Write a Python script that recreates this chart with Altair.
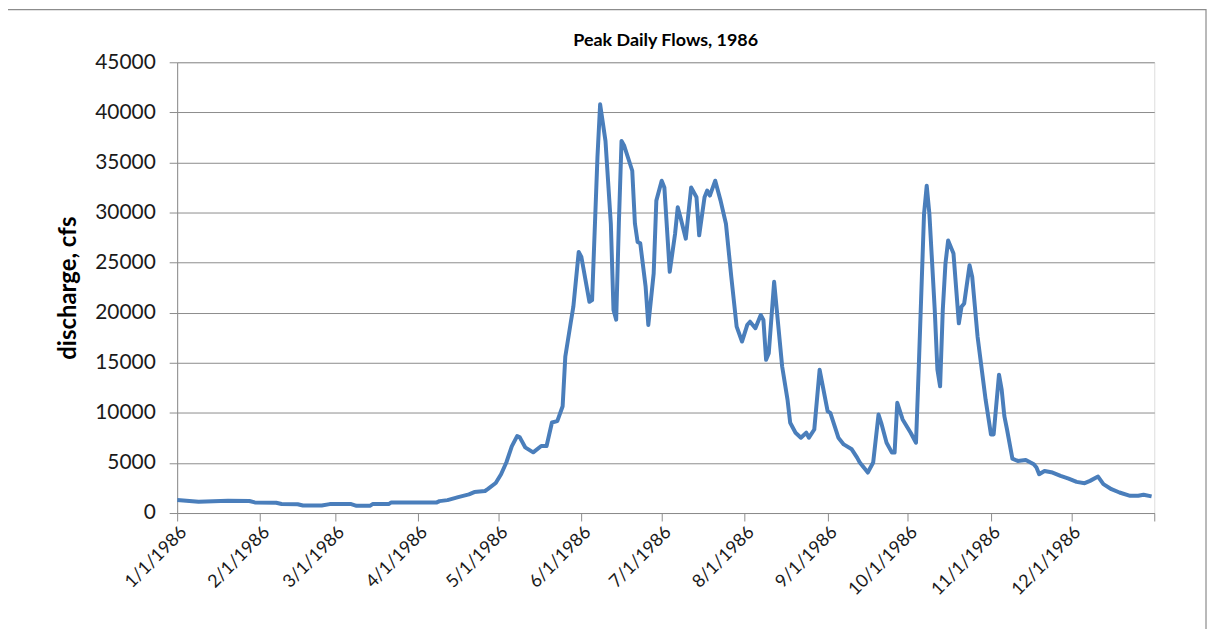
import altair as alt
import pandas as pd

# day-of-year offsets (0 = 1986-01-01) and daily peak discharge (cfs)
day_offsets = [0, 8, 19, 27, 29, 37, 39, 45, 47, 54, 57, 65, 67, 72, 73, 79, 80, 97, 98, 101,
               105, 109, 111, 115, 116, 119, 121, 123, 125, 127, 128, 130, 133, 136, 138, 140, 142, 144, 145, 147,
               148, 150, 151, 154, 155, 157, 158, 160, 162, 163, 164, 165, 166, 167, 170, 171, 172, 173, 175, 176,
               178, 179, 181, 182, 184, 186, 187, 188, 190, 192, 194, 195, 197, 198, 199, 201, 203, 205, 207, 209,
               211, 213, 214, 216, 218, 219, 220, 221, 223, 224, 226, 228, 229, 231, 233, 235, 236, 238, 240, 243,
               244, 247, 249, 252, 254, 255, 258, 260, 262, 263, 265, 267, 268, 269, 271, 274, 276, 277, 279, 280,
               281, 283, 284, 285, 286, 287, 288, 290, 292, 293, 294, 296, 297, 299, 302, 304, 305, 307, 308, 309,
               310, 312, 314, 317, 320, 321, 322, 324, 327, 330, 333, 336, 339, 341, 344, 346, 349, 352, 356, 359,
               361, 364]
discharge = [1300, 1120, 1220, 1200, 1060, 1020, 900, 880, 750, 750, 890, 890, 720, 720, 890, 890, 1060, 1060, 1190, 1290,
             1590, 1860, 2090, 2200, 2380, 3000, 3870, 5070, 6660, 7680, 7550, 6560, 6060, 6690, 6690, 9040, 9170, 10660, 15630, 18970,
             20600, 26060, 25560, 21090, 21260, 35500, 40800, 37150, 28900, 20260, 19300, 28900, 37150, 36660, 34170, 28900, 27050, 26920, 22580, 18775,
             23910, 31190, 33180, 32510, 24080, 27880, 30530, 29530, 27390, 32510, 31520, 27720, 31520, 32190, 31690, 33180, 31190, 28880, 23580, 18610,
             17120, 18800, 19100, 18450, 19770, 19270, 15300, 15960, 23080, 20260, 14630, 11320, 9010, 8020, 7520, 8020, 7520, 8340, 14300, 10160,
             10000, 7520, 6850, 6360, 5530, 5040, 4040, 5040, 9830, 9010, 7020, 6030, 6030, 11000, 9340, 8020, 7020, 14300, 29870, 32680,
             29870, 20260, 14300, 12650, 20260, 24900, 27220, 25900, 18940, 20600, 20930, 24740, 23580, 17610, 11320, 7850, 7850, 13810, 12320, 9670,
             8340, 5430, 5200, 5300, 4870, 4540, 3870, 4200, 4040, 3710, 3440, 3110, 2980, 3210, 3640, 2880, 2380, 2050, 1720, 1720,
             1820, 1660]

y_ticks = [0, 5000, 10000, 15000, 20000, 25000, 30000, 35000, 40000, 45000]
month_starts = ["1986-01-01", "1986-02-01", "1986-03-01", "1986-04-01", "1986-05-01", "1986-06-01",
                "1986-07-01", "1986-08-01", "1986-09-01", "1986-10-01", "1986-11-01", "1986-12-01", "1987-01-01"]
chart_title = "Peak Daily Flows, 1986"
y_title = "discharge, cfs"

start = pd.Timestamp("1986-01-01")
df = pd.DataFrame({
    "date": [(start + pd.Timedelta(days=d)).strftime("%Y-%m-%d") for d in day_offsets],
    "discharge": discharge,
})
x_tick_ms = [int(pd.Timestamp(m).value // 10**6) for m in month_starts]

FONT = "Lato"
GRID = "#8c8c8c"
W, H = 982, 453

line = alt.Chart(df).mark_line(color="#4a7ebb", strokeWidth=4, strokeJoin="round", clip=True).encode(
    x=alt.X("date:T",
            scale=alt.Scale(type="utc", domain=[x_tick_ms[0], x_tick_ms[-1]], nice=False),
            axis=alt.Axis(values=x_tick_ms, title=None, grid=False,
                          labelExpr="utcyear(datum.value) > 1986 ? '' : utcFormat(datum.value, '%-m/%-d/%Y')",
                          labelAngle=-45, labelAlign="right", labelBaseline="top",
                          labelFont=FONT, labelFontSize=18, labelColor="#1a1a1a", labelPadding=2,
                          tickSize=8, tickColor=GRID, domainColor=GRID, labelOverlap=False)),
    y=alt.Y("discharge:Q",
            scale=alt.Scale(domain=[0, 45000], nice=False),
            axis=alt.Axis(values=y_ticks, format="d", title=y_title,
                          titleFont=FONT, titleFontSize=24, titleFontWeight="bold", titleColor="#000000",
                          titlePadding=14,
                          labelFont=FONT, labelFontSize=21, labelColor="#1a1a1a", labelPadding=14,
                          tickSize=8, tickColor=GRID, domainColor=GRID,
                          grid=True, gridColor=GRID, gridWidth=1)),
)

title_text = alt.Chart(pd.DataFrame({"t": [chart_title]})).mark_text(
    font=FONT, fontSize=18, fontWeight="bold", color="#000000", align="center", baseline="middle"
).encode(text="t:N", x=alt.value(W / 2), y=alt.value(-21))

border = alt.Chart(pd.DataFrame({"k": [0]})).mark_rect(fill=None, stroke="#8c8c8c", strokeWidth=1.2, clip=False).encode(
    x=alt.value(-171), x2=alt.value(W + 52), y=alt.value(-53), y2=alt.value(H + 130)
)

chart = alt.layer(border, line, title_text).properties(
    width=W, height=H,
    autosize=alt.AutoSizeParams(type="none"),
    padding={"left": 170, "top": 53, "right": 53, "bottom": 115},
).configure_view(stroke=None).configure(background="white")

chart.save("out.html", embed_options={"renderer": "svg", "actions": False})
